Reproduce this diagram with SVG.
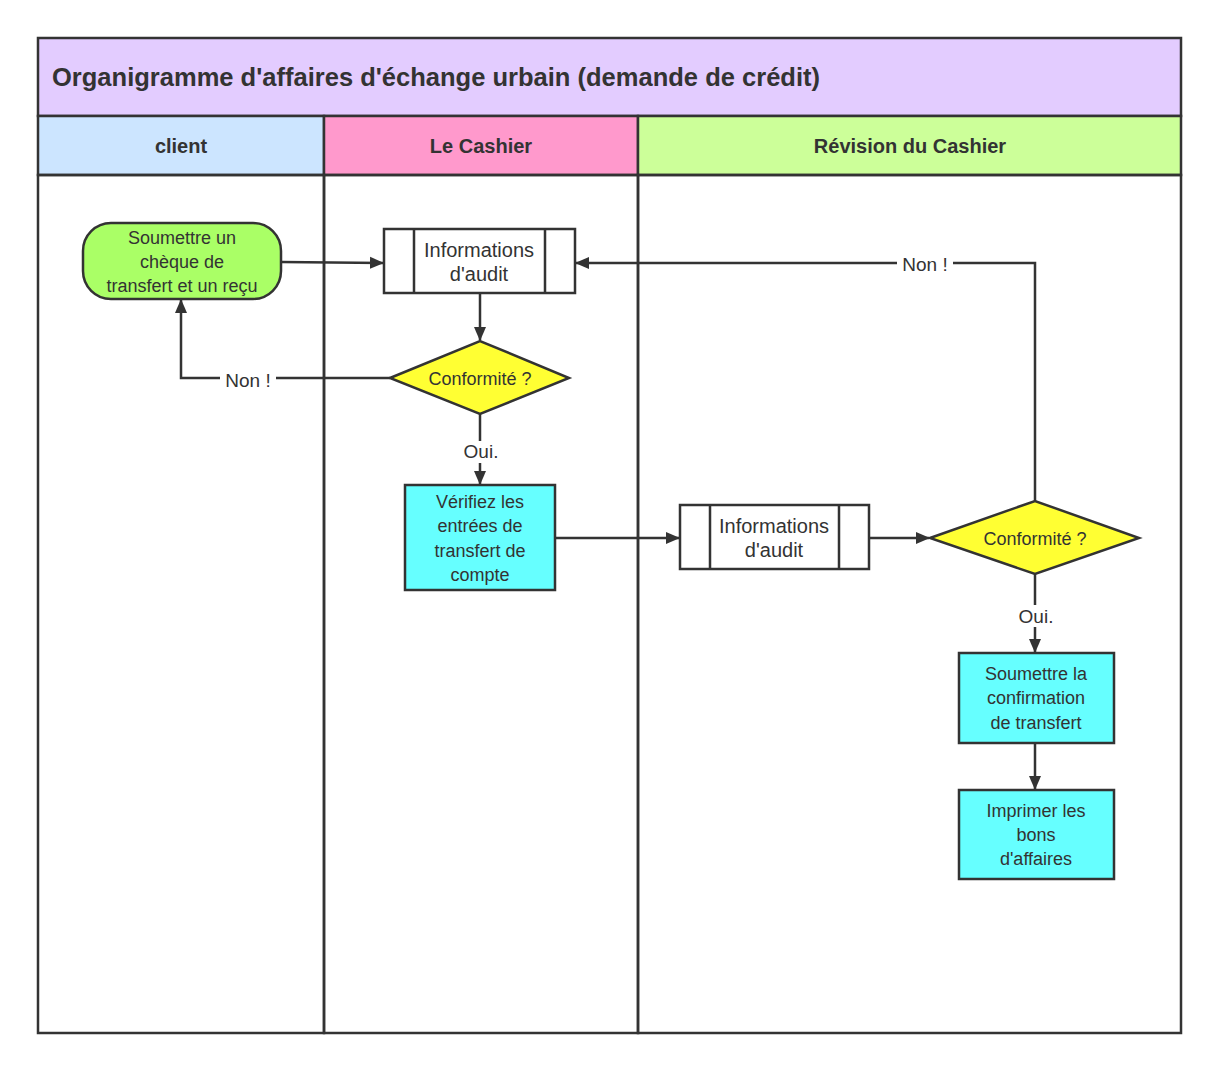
<svg xmlns="http://www.w3.org/2000/svg" width="1218" height="1071" viewBox="0 0 1218 1071">
<style>
text{font-family:"Liberation Sans",Arial,sans-serif;fill:#333;text-anchor:middle}
.n{font-size:18px}
.h{font-size:20px;font-weight:bold}
.s{stroke:#333;stroke-width:2.5}
.c{fill:none;stroke:#333;stroke-width:2.5}
.lb{font-size:19px}
</style>
<defs><marker id="a" markerWidth="14" markerHeight="14" refX="13" refY="6" orient="auto" markerUnits="userSpaceOnUse" viewBox="0 0 14 12"><path d="M0,0L14,6L0,12z" fill="#333"/></marker></defs>
<rect width="1218" height="1071" fill="#fff"/>
<g id="pool">
<rect x="38" y="38" width="1143" height="78" fill="#e3ccff" class="s"/>
<text x="52" y="86" textLength="768" style="font-size:25.5px;font-weight:bold;text-anchor:start">Organigramme d'affaires d'échange urbain (demande de crédit)</text>
<rect x="38" y="116" width="286" height="59" fill="#cce5ff" class="s"/>
<rect x="324" y="116" width="314" height="59" fill="#ff99cc" class="s"/>
<rect x="638" y="116" width="543" height="59" fill="#ccff99" class="s"/>
<text x="181" y="153" class="h">client</text>
<text x="481" y="153" class="h">Le Cashier</text>
<text x="910" y="153" class="h">Révision du Cashier</text>
<rect x="38" y="175" width="286" height="858" fill="none" class="s"/>
<rect x="324" y="175" width="314" height="858" fill="none" class="s"/>
<rect x="638" y="175" width="543" height="858" fill="none" class="s"/>
</g>
<g id="connectors">
<path d="M281,262L383,263" class="c" marker-end="url(#a)"/>
<path d="M480,293L480,340" class="c" marker-end="url(#a)"/>
<path d="M390,378L181,378L181,300" class="c" marker-end="url(#a)"/>
<path d="M480,414L480,484" class="c" marker-end="url(#a)"/>
<path d="M555,538L679,538" class="c" marker-end="url(#a)"/>
<path d="M869,538L929,538" class="c" marker-end="url(#a)"/>
<path d="M1035,501L1035,263L576,263" class="c" marker-end="url(#a)"/>
<path d="M1035,574L1035,652" class="c" marker-end="url(#a)"/>
<path d="M1035,743L1035,789" class="c" marker-end="url(#a)"/>
<rect x="220" y="368" width="56" height="22" fill="#fff"/><text x="248" y="387" class="lb">Non !</text>
<rect x="460" y="441" width="42" height="22" fill="#fff"/><text x="481" y="458" class="lb">Oui.</text>
<rect x="897" y="253" width="56" height="22" fill="#fff"/><text x="925" y="271" class="lb">Non !</text>
<rect x="1015" y="605" width="42" height="22" fill="#fff"/><text x="1036" y="623" class="lb">Oui.</text>
</g>
<g id="n1"><rect x="83" y="223" width="198" height="76" rx="28" fill="#aaff66" class="s"/>
<text x="182" y="244" class="n">Soumettre un</text><text x="182" y="268" class="n">chèque de</text><text x="182" y="292" class="n">transfert et un reçu</text></g>
<g id="n2"><rect x="384" y="229" width="191" height="64" fill="#fff" class="s"/><path d="M414,229V293M545,229V293" class="s"/>
<text x="479" y="257" class="n" style="font-size:20px">Informations</text><text x="479" y="281" class="n" style="font-size:20px">d'audit</text></g>
<g id="n3"><path d="M390,378L480,341L569,378L480,414Z" fill="#ffff33" class="s"/><text x="480" y="385" class="n">Conformité ?</text></g>
<g id="n4"><rect x="405" y="485" width="150" height="105" fill="#66ffff" class="s"/>
<text x="480" y="508" class="n">Vérifiez les</text><text x="480" y="532" class="n">entrées de</text><text x="480" y="557" class="n">transfert de</text><text x="480" y="581" class="n">compte</text></g>
<g id="n5"><rect x="680" y="505" width="189" height="64" fill="#fff" class="s"/><path d="M710,505V569M839,505V569" class="s"/>
<text x="774" y="533" class="n" style="font-size:20px">Informations</text><text x="774" y="557" class="n" style="font-size:20px">d'audit</text></g>
<g id="n6"><path d="M930,538L1035,501L1139,538L1035,574Z" fill="#ffff33" class="s"/><text x="1035" y="545" class="n">Conformité ?</text></g>
<g id="n7"><rect x="959" y="653" width="155" height="90" fill="#66ffff" class="s"/>
<text x="1036" y="680" class="n">Soumettre la</text><text x="1036" y="704" class="n">confirmation</text><text x="1036" y="729" class="n">de transfert</text></g>
<g id="n8"><rect x="959" y="790" width="155" height="89" fill="#66ffff" class="s"/>
<text x="1036" y="817" class="n">Imprimer les</text><text x="1036" y="841" class="n">bons</text><text x="1036" y="865" class="n">d'affaires</text></g>
</svg>
